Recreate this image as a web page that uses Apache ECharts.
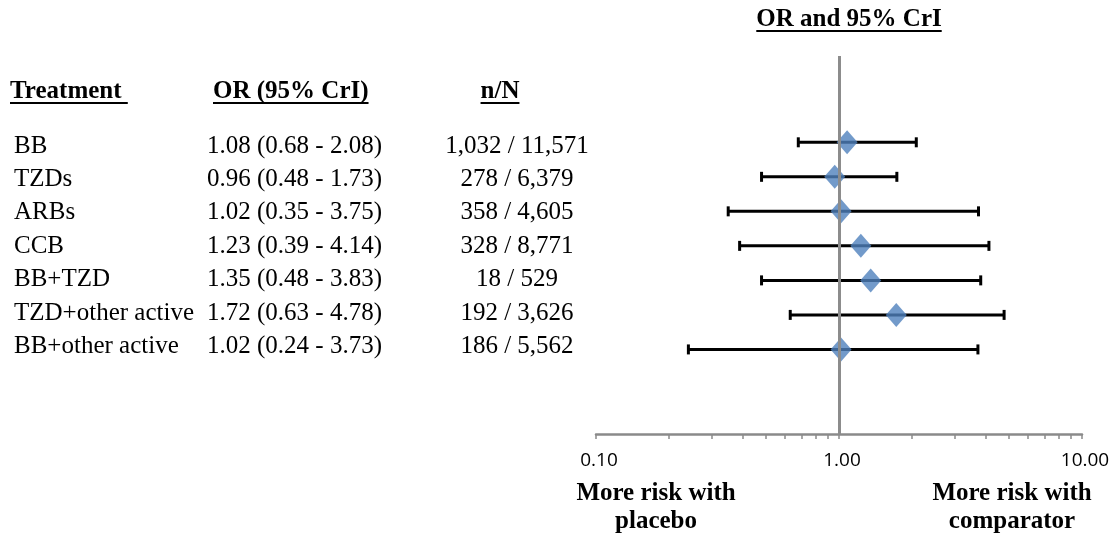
<!DOCTYPE html>
<html>
<head>
<meta charset="utf-8">
<script src="https://cdn.jsdelivr.net/npm/echarts@6/dist/echarts.min.js"></script>
<style>html,body{margin:0;padding:0;background:#fff}#c{width:1114px;height:536px}</style>
</head>
<body>
<div id="c"></div>
<script>
// ---- data ----
const treatments = ['BB', 'TZDs', 'ARBs', 'CCB', 'BB+TZD', 'TZD+other active', 'BB+other active'];
const orValues = [1.08, 0.96, 1.02, 1.23, 1.35, 1.72, 1.02];
const lowerCrI = [0.68, 0.48, 0.35, 0.39, 0.48, 0.63, 0.24];
const upperCrI = [2.08, 1.73, 3.75, 4.14, 3.83, 4.78, 3.73];
const nEvents = ['1,032', '278', '358', '328', '18', '192', '186'];
const nTotal = ['11,571', '6,379', '4,605', '8,771', '529', '3,626', '5,562'];
const tickValues = [0.1, 0.2, 0.3, 0.4, 0.5, 0.6, 0.7, 0.8, 0.9, 1, 2, 3, 4, 5, 6, 7, 8, 9, 10];
const tickLabelValues = [0.1, 1, 10];
const headers = ['Treatment ', 'OR (95% CrI)', 'n/N'];
const chartTitle = 'OR and 95% CrI';
const leftNote = ['More risk with', 'placebo'];
const rightNote = ['More risk with', 'comparator'];

// ---- layout/style ----
const SERIF = '"Liberation Serif", "Times New Roman", serif';
const rowFont = 25, headFont = 25;
const rowY0 = 146, rowStep = 33.4;
const canvas = document.createElement('canvas');
const ctx = canvas.getContext('2d');
function textWidth(str, font) { ctx.font = font; return ctx.measureText(str).width; }

const graphics = [];
function addText(str, x, y, opts) {
  graphics.push({
    type: 'text', x: x, y: y, silent: true,
    style: Object.assign({
      text: str, fill: '#000', font: rowFont + 'px ' + SERIF,
      textAlign: 'left', textVerticalAlign: 'middle'
    }, opts || {})
  });
}
function addUnderlined(str, x, y, align) {
  const font = 'bold ' + headFont + 'px ' + SERIF;
  addText(str, x, y, { font: font, textAlign: align });
  const w = textWidth(str, font);
  const x0 = align === 'center' ? x - w / 2 : x;
  graphics.push({
    type: 'line', silent: true,
    shape: { x1: x0, y1: y + 11, x2: x0 + w, y2: y + 11 },
    style: { stroke: '#000', lineWidth: 2 }
  });
}

addUnderlined(chartTitle, 849, 20, 'center');
addUnderlined(headers[0], 10, 92, 'left');
addUnderlined(headers[1], 213, 92, 'left');
addUnderlined(headers[2], 500, 92, 'center');

treatments.forEach(function (t, i) {
  const y = rowY0 + i * rowStep;
  addText(t, 14, y);
  addText(orValues[i].toFixed(2) + ' (' + lowerCrI[i].toFixed(2) + ' - ' + upperCrI[i].toFixed(2) + ')', 207, y);
  addText(nEvents[i] + ' / ' + nTotal[i], 517, y, { textAlign: 'center' });
});

leftNote.forEach(function (s, i) {
  addText(s, 656, 494 + i * 28, { font: 'bold ' + headFont + 'px ' + SERIF, textAlign: 'center' });
});
rightNote.forEach(function (s, i) {
  addText(s, 1012, 494 + i * 28, { font: 'bold ' + headFont + 'px ' + SERIF, textAlign: 'center' });
});

const chart = echarts.init(document.getElementById('c'), null, { renderer: 'canvas' });
chart.setOption({
  animation: false,
  backgroundColor: '#fff',
  grid: { left: 596, right: 32, top: 56, bottom: 102, containLabel: false },
  xAxis: {
    type: 'log', logBase: 10, min: 0.1, max: 10,
    axisLine: { show: true, onZero: false, lineStyle: { color: '#8a8a8a', width: 2.5 } },
    axisTick: { show: true, customValues: tickValues, length: 5, inside: false, lineStyle: { color: '#8a8a8a', width: 1.5 } },
    axisLabel: {
      customValues: tickLabelValues, margin: 17, color: '#000',
      fontFamily: '"Open Sans", sans-serif', fontSize: 19,
      padding: [0, 0, 0, 6],
      formatter: function (v) { return Number(v).toFixed(2); }
    },
    splitLine: { show: false },
    minorTick: { show: false }
  },
  yAxis: { type: 'value', min: -2.5, max: 8.45, inverse: true, show: false },
  series: [
    {
      type: 'custom',
      data: treatments.map(function (t, i) { return [lowerCrI[i], upperCrI[i], i]; }),
      encode: { x: [0, 1], y: 2 },
      z: 2,
      renderItem: function (params, api) {
        const p1 = api.coord([api.value(0), api.value(2)]);
        const p2 = api.coord([api.value(1), api.value(2)]);
        const h = 5;
        const st = { stroke: '#000', lineWidth: 3 };
        return {
          type: 'group',
          children: [
            { type: 'line', shape: { x1: p1[0], y1: p1[1], x2: p2[0], y2: p2[1] }, style: st },
            { type: 'line', shape: { x1: p1[0], y1: p1[1] - h, x2: p1[0], y2: p1[1] + h }, style: st },
            { type: 'line', shape: { x1: p2[0], y1: p2[1] - h, x2: p2[0], y2: p2[1] + h }, style: st }
          ]
        };
      }
    },
    {
      type: 'scatter',
      data: orValues.map(function (v, i) { return [v, i]; }),
      symbol: 'diamond',
      symbolSize: [21, 24],
      itemStyle: { color: '#4F81BD' },
      z: 4,
      markLine: {
        silent: true, symbol: 'none', animation: false,
        label: { show: false },
        lineStyle: { color: '#8c8c8c', width: 3, type: 'solid' },
        data: [{ xAxis: 1 }]
      }
    }
  ],
  graphic: graphics
});
</script>
</body>
</html>
